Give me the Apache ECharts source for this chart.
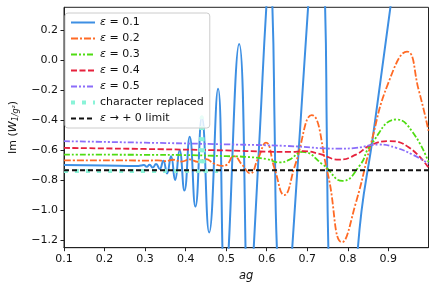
<!DOCTYPE html>
<html><head><meta charset="utf-8">
<script src="https://cdn.jsdelivr.net/npm/echarts@6/dist/echarts.min.js"></script>
<style>html,body{margin:0;padding:0;background:#fff}#c{width:437px;height:289px}</style>
</head><body><div id="c"></div>
<script>
const xTicks = [0.1,0.2,0.3,0.4,0.5,0.6,0.7,0.8,0.9];
const yTicks = [-1.2,-1.0,-0.8,-0.6,-0.4,-0.2,0.0,0.2];
const names = ['ε = 0.1','ε = 0.2','ε = 0.3','ε = 0.4','ε = 0.5','character replaced','ε → + 0 limit'];

const eps01 = [[0.10,-0.700],[0.20,-0.702],[0.28,-0.706],[0.290,-0.703],[0.297,-0.699],[0.304,-0.711],[0.311,-0.697],[0.319,-0.716],[0.327,-0.692],[0.336,-0.726],[0.345,-0.670],[0.354,-0.756],[0.364,-0.640],[0.374,-0.800],[0.385,-0.600],[0.397,-0.870],[0.410,-0.510],[0.424,-0.977],[0.440,-0.380],[0.458,-1.150],[0.480,-0.190],[0.497,-1.480],[0.532,0.110],[0.557,-1.800],[0.568,-1.250],[0.5835,-0.450],[0.599,0.355],[0.607,0.600],[0.614,0.355],[0.6195,-0.450],[0.625,-1.250],[0.645,-2.000],[0.663,-1.250],[0.6825,-0.450],[0.702,0.355],[0.726,1.300],[0.744,0.355],[0.748,-0.450],[0.752,-1.250],[0.770,-3.000],[0.800,-2.800],[0.825,-1.250],[0.865,-0.450],[0.905,0.355],[0.950,1.250],[0.999,2.200]];
const eps02 = [[0.10,-0.668],[0.25,-0.668],[0.30,-0.670],[0.33,-0.668],[0.35,-0.673],[0.37,-0.664],[0.39,-0.676],[0.41,-0.662],[0.43,-0.678],[0.45,-0.660],[0.47,-0.690],[0.49,-0.705],[0.50,-0.700],[0.519,-0.640],[0.54,-0.700],[0.559,-0.755],[0.578,-0.660],[0.598,-0.550],[0.62,-0.730],[0.643,-0.900],[0.67,-0.700],[0.711,-0.366],[0.75,-0.750],[0.786,-1.215],[0.82,-0.950],[0.856,-0.567],[0.90,-0.150],[0.946,0.059],[0.975,-0.200],[0.999,-0.470]];
const eps03 = [[0.10,-0.630],[0.30,-0.631],[0.40,-0.633],[0.50,-0.640],[0.55,-0.645],[0.60,-0.660],[0.632,-0.682],[0.655,-0.665],[0.688,-0.612],[0.74,-0.700],[0.787,-0.805],[0.83,-0.700],[0.856,-0.567],[0.921,-0.395],[0.96,-0.480],[0.999,-0.680]];
const eps04 = [[0.10,-0.585],[0.30,-0.592],[0.50,-0.602],[0.60,-0.610],[0.66,-0.612],[0.69,-0.607],[0.73,-0.625],[0.778,-0.663],[0.82,-0.630],[0.856,-0.567],[0.901,-0.540],[0.95,-0.580],[0.999,-0.717]];
const eps05 = [[0.10,-0.540],[0.30,-0.550],[0.50,-0.561],[0.65,-0.572],[0.78,-0.590],[0.82,-0.585],[0.856,-0.567],[0.875,-0.562],[0.92,-0.585],[0.96,-0.630],[0.999,-0.690]];
const replaced = [[0.10,-0.740],[0.20,-0.740],[0.30,-0.740],[0.40,-0.740],[0.432,-0.740],[0.437,-0.600],[0.440,-0.380],[0.443,-0.600],[0.448,-0.740],[0.48,-0.740]];
const limit = [[0.10,-0.735],[0.999,-0.735]];

const colors = ['#3d8fe3','#ff6a25','#4fdc12','#e6213c','#8b6dfa','#8af3d8','#111'];
const dashes = ['solid',[7,2,2,2],[6,2,2,2,2,2],[6,2.5],[6,2,2,2,2,2],[4,7],[5,3]];
const widths = [2,1.8,1.8,1.8,1.8,4,2];
const datas = [eps01,eps02,eps03,eps04,eps05,replaced,limit];

const FONT = 'DejaVu Sans';
const fmtMinus = v => v.toFixed(1).replace('-', '\u2212');

const chart = echarts.init(document.getElementById('c'), null, {renderer:'canvas'});
chart.setOption({
  animation:false,
  grid:{left:60,right:8.5,top:7.3,bottom:41.3,show:true,borderColor:'#222',borderWidth:1,backgroundColor:'transparent'},
  xAxis:{type:'value',min:0.1,max:0.999,
    name:'ag',nameLocation:'middle',nameGap:22,
    nameTextStyle:{fontFamily:FONT,fontSize:11.5,fontStyle:'italic',color:'#111'},
    axisLine:{show:true,onZero:false,lineStyle:{color:'#222',width:1}},
    axisTick:{show:true,length:3.5,lineStyle:{color:'#222'},customValues:xTicks},
    axisLabel:{color:'#111',fontFamily:FONT,fontSize:11,margin:6,customValues:xTicks,formatter:v=>v.toFixed(1)},
    splitLine:{show:false}},
  yAxis:{type:'value',min:-1.252,max:0.355,
    name:'{a|Im (}{w|W}{s|1/g²}{a|)}',nameLocation:'middle',nameGap:44,nameRotate:90,
    nameTextStyle:{fontFamily:FONT,fontSize:11,color:'#111',rich:{
      a:{fontFamily:FONT,fontSize:11,color:'#111'},
      w:{fontFamily:FONT,fontSize:11,fontStyle:'italic',color:'#111'},
      s:{fontFamily:FONT,fontSize:8,fontStyle:'italic',color:'#111',padding:[5,0,0,0]}}},
    axisLine:{show:true,onZero:false,lineStyle:{color:'#222',width:1}},
    axisTick:{show:true,length:3.5,lineStyle:{color:'#222'},customValues:yTicks},
    axisLabel:{color:'#111',fontFamily:FONT,fontSize:11,margin:6,customValues:yTicks,formatter:fmtMinus},
    splitLine:{show:false}},
  legend:{orient:'vertical',left:65,top:13,padding:[4,6,4,4],itemGap:5,itemWidth:24,itemHeight:11,
    backgroundColor:'rgba(255,255,255,0.8)',borderColor:'#ccc',borderWidth:1,borderRadius:3,
    itemStyle:{opacity:0},
    data:names.map((n,i)=>({name:n,lineStyle:{width:widths[i],type:dashes[i],color:colors[i]}})),
    formatter:n=>n.replace('ε','{i|ε}'),
    textStyle:{fontFamily:FONT,fontSize:11,color:'#111',rich:{i:{fontFamily:FONT,fontSize:11,fontStyle:'italic',color:'#111'}}}},
  series: datas.map((d,i)=>({
    name:names[i],type:'line',data:d,symbol:'none',smooth:i===6?false:0.5,clip:true,
    lineStyle:{color:colors[i],width:widths[i],type:dashes[i]},
    itemStyle:{color:colors[i]},
    emphasis:{disabled:true}
  }))
});
</script></body></html>
